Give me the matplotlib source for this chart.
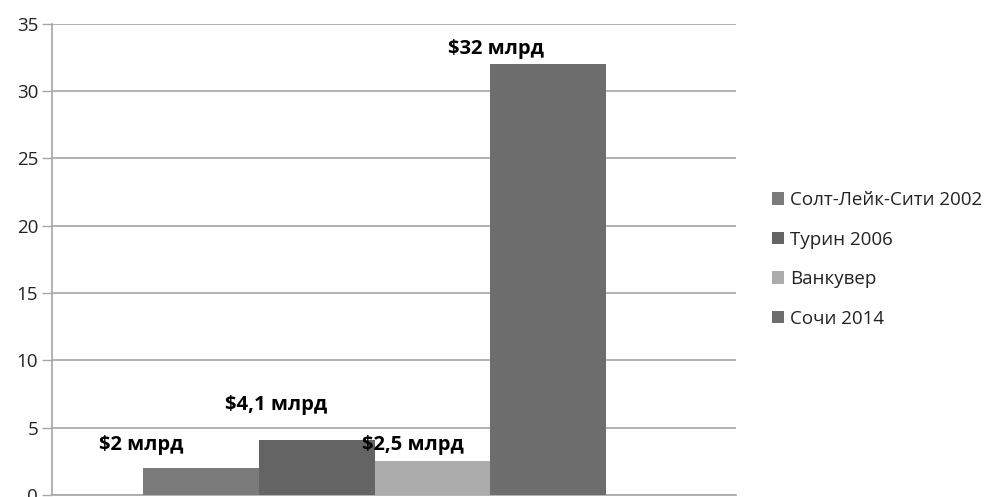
import matplotlib
matplotlib.use("Agg")
import matplotlib.pyplot as plt

plt.rcParams["font.family"] = ["Open Sans", "DejaVu Sans"]

GRID = "#a6a6a6"

games = ["Солт-Лейк-Сити 2002", "Турин 2006", "Ванкувер", "Сочи 2014"]
cost_bln = [2.0, 4.1, 2.5, 32.0]
labels = ["$2 млрд", "$4,1 млрд", "$2,5 млрд", "$32 млрд"]
colors = ["#7b7b7b", "#646464", "#acacac", "#6d6d6d"]

# hand-placed label anchors (x in bar units, y in billions)
label_x = [-2.02, -0.85, 0.33, 1.05]
label_y = [3.7, 6.7, 3.7, 33.1]

fig = plt.figure(figsize=(9.87, 4.97), dpi=100)
ax = fig.add_axes([0.0527, 0.004, 0.693, 0.948])

offsets = [-1.5, -0.5, 0.5, 1.5]
for off, val, col, name in zip(offsets, cost_bln, colors, games):
    ax.bar(off, val, width=1.0, color=col, label=name, zorder=3)

for x, y, txt in zip(label_x, label_y, labels):
    ax.text(x, y, txt, ha="center", va="center", fontsize=14.5,
            fontweight="bold", color="black", zorder=4)

ax.set_xlim(-2.786, 3.12)
ax.set_ylim(0, 35)
ax.set_yticks(range(0, 36, 5))
ax.set_xticks([])
ax.tick_params(axis="y", length=7, width=1, color=GRID, labelsize=13.5,
               pad=3, labelcolor="#222222")
ax.grid(axis="y", color=GRID, linewidth=1.2, zorder=0)
ax.set_axisbelow(True)
for side in ["top", "right"]:
    ax.spines[side].set_visible(False)
for side in ["left", "bottom"]:
    ax.spines[side].set_color(GRID)
    ax.spines[side].set_linewidth(1.2)

ax.legend(loc="center left", bbox_to_anchor=(1.028, 0.5), frameon=False,
          fontsize=13.5, handlelength=0.65, handleheight=0.65,
          handletextpad=0.3, labelspacing=1.15, labelcolor="#222222")

fig.savefig("out.png", dpi=100)
